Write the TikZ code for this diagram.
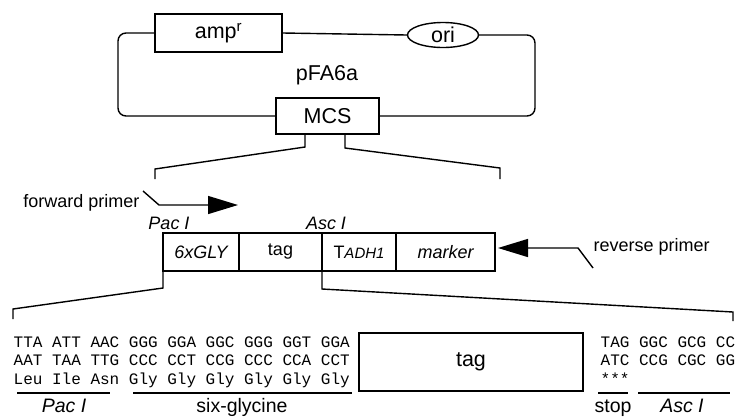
\documentclass[tikz,border=0pt]{standalone}
\usepackage{fontspec}
\setmainfont{Liberation Sans}
\setmonofont{Liberation Mono}
\usetikzlibrary{arrows.meta,shapes.geometric}
\begin{document}
\begin{tikzpicture}[x=1pt,y=-1pt,line width=1.4pt,
  font=\fontsize{18}{20}\selectfont,
  big/.style={font=\fontsize{21.5}{24}\selectfont},
  box/.style={draw,rectangle,inner sep=0pt},
  seq/.style={anchor=base west,inner sep=0pt,font=\ttfamily\fontsize{16}{18}\selectfont},
  lbl/.style={inner sep=0pt},
  btm/.style={inner sep=0pt,anchor=base,font=\fontsize{19.5}{21}\selectfont},
  bigtip/.style={-{Triangle[length=30pt,width=18pt]}}]
\useasboundingbox (0,0) rectangle (735,416);
% plasmid
\node[box,big,minimum width=127pt,minimum height=38pt] (amp) at (218.5,33) {amp\textsuperscript{r}};
\node[draw,ellipse,big,inner sep=0pt,minimum width=71pt,minimum height=25pt] (ori) at (443,35) {ori};
\node[box,big,minimum width=103pt,minimum height=36pt] (mcs) at (327.5,116) {MCS};
\node[lbl,big] (name) at (327,75) {pFA6a};
\coordinate (pl1) at (118,33);
\coordinate (pl2) at (118,116);
\coordinate (pr1) at (535,35);
\coordinate (pr2) at (535,116);
\draw (amp.east) -- (ori.west);
\draw[rounded corners=8pt] (amp.west) -- (pl1) -- (pl2) -- (mcs.west);
\draw[rounded corners=8pt] (ori.east) -- (pr1) -- (pr2) -- (mcs.east);
% top brackets
\coordinate (ta1) at (305,134);
\coordinate (ta2) at (305,147);
\coordinate (ta3) at (155,169);
\coordinate (ta4) at (155,179);
\coordinate (tb1) at (345,134);
\coordinate (tb2) at (345,148);
\coordinate (tb3) at (500,168);
\coordinate (tb4) at (500,179);
\draw (ta1) -- (ta2) -- (ta3) -- (ta4);
\draw (tb1) -- (tb2) -- (tb3) -- (tb4);
% cassette
\node[box,minimum width=76pt,minimum height=38pt] (gly) at (201,252) {\itshape 6xGLY};
\node[box,minimum width=83pt,minimum height=38pt] (tag1) at (280.5,252) {tag};
\node[box,minimum width=74pt,minimum height=38pt] (tadh) at (359,252) {T{\fontsize{15}{17}\selectfont\itshape ADH1}};
\node[box,minimum width=99pt,minimum height=38pt] (mark) at (445.5,252) {\itshape marker};
\node[lbl] (pac1) at (169,223) {\itshape Pac I};
\node[lbl] (asc1) at (326,223) {\itshape Asc I};
% primers
\node[lbl,anchor=east] (fwd) at (140,203) {forward primer};
\coordinate (fp1) at (143,191);
\coordinate (fp2) at (159,205);
\coordinate (fp3) at (238,205);
\draw[bigtip] (fp1) -- (fp2) -- (fp3);
\node[lbl,anchor=west] (rev) at (593,247) {reverse primer};
\coordinate (rp1) at (593,268);
\coordinate (rp2) at (578,248);
\coordinate (rp3) at (498,248);
\draw[bigtip] (rp1) -- (rp2) -- (rp3);
% bottom brackets
\coordinate (ba1) at (163,271);
\coordinate (ba2) at (163,288);
\coordinate (ba3) at (13,309);
\coordinate (ba4) at (13,319);
\coordinate (bb1) at (322,271);
\coordinate (bb2) at (322,289);
\coordinate (bb3) at (733,312);
\coordinate (bb4) at (733,321);
\draw (ba1) -- (ba2) -- (ba3) -- (ba4);
\draw (bb1) -- (bb2) -- (bb3) -- (bb4);
% sequences
\node[seq] (s1) at (13,347) {TTA ATT AAC GGG GGA GGC GGG GGT GGA};
\node[seq] (s2) at (13,365.5) {AAT TAA TTG CCC CCT CCG CCC CCA CCT};
\node[seq] (s3) at (13,384) {Leu Ile Asn Gly Gly Gly Gly Gly Gly};
\node[box,big,minimum width=224pt,minimum height=58pt] (tag2) at (471,362) {tag};
\node[seq] (r1) at (600,347) {TAG GGC GCG CC};
\node[seq] (r2) at (600,365.5) {ATC CCG CGC GG};
\node[seq] (r3) at (600,384) {***};
% underlines and labels
\coordinate (u1) at (17,393);
\coordinate (u2) at (110,393);
\coordinate (u3) at (133,393);
\coordinate (u4) at (352,393);
\coordinate (u5) at (598,393);
\coordinate (u6) at (628,393);
\coordinate (u7) at (638,393);
\coordinate (u8) at (730,393);
\draw (u1) -- (u2);
\draw (u3) -- (u4);
\draw (u5) -- (u6);
\draw (u7) -- (u8);
\node[btm] (pac2) at (64,412) {\itshape Pac I};
\node[btm] (six) at (242,412) {six-glycine};
\node[btm] (stop) at (613,412) {stop};
\node[btm] (asc2) at (682,412) {\itshape Asc I};
\end{tikzpicture}
\end{document}
